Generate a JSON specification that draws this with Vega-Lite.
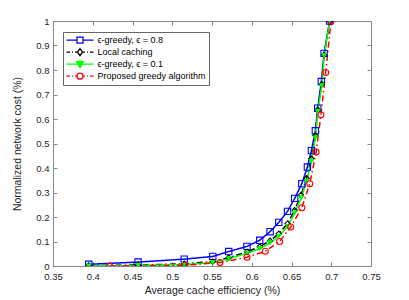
{
  "$schema": "https://vega.github.io/schema/vega-lite/v6.json",
  "width": 318,
  "height": 245,
  "autosize": {"type": "none"},
  "padding": {"left": 53, "top": 21, "right": 38, "bottom": 34},
  "background": "white",
  "config": {"font": "Liberation Sans", "view": {"stroke": null}},
  "data": {
    "values": [
      {"series": "ϵ-greedy, ϵ = 0.8", "x": 0.395, "y": 0.007},
      {"series": "ϵ-greedy, ϵ = 0.8", "x": 0.457, "y": 0.016},
      {"series": "ϵ-greedy, ϵ = 0.8", "x": 0.515, "y": 0.028},
      {"series": "ϵ-greedy, ϵ = 0.8", "x": 0.551, "y": 0.039},
      {"series": "ϵ-greedy, ϵ = 0.8", "x": 0.571, "y": 0.059},
      {"series": "ϵ-greedy, ϵ = 0.8", "x": 0.594, "y": 0.080},
      {"series": "ϵ-greedy, ϵ = 0.8", "x": 0.610, "y": 0.105},
      {"series": "ϵ-greedy, ϵ = 0.8", "x": 0.623, "y": 0.140},
      {"series": "ϵ-greedy, ϵ = 0.8", "x": 0.634, "y": 0.178},
      {"series": "ϵ-greedy, ϵ = 0.8", "x": 0.645, "y": 0.223},
      {"series": "ϵ-greedy, ϵ = 0.8", "x": 0.654, "y": 0.276},
      {"series": "ϵ-greedy, ϵ = 0.8", "x": 0.663, "y": 0.336},
      {"series": "ϵ-greedy, ϵ = 0.8", "x": 0.670, "y": 0.404},
      {"series": "ϵ-greedy, ϵ = 0.8", "x": 0.675, "y": 0.471},
      {"series": "ϵ-greedy, ϵ = 0.8", "x": 0.680, "y": 0.552},
      {"series": "ϵ-greedy, ϵ = 0.8", "x": 0.683, "y": 0.644},
      {"series": "ϵ-greedy, ϵ = 0.8", "x": 0.6875, "y": 0.753},
      {"series": "ϵ-greedy, ϵ = 0.8", "x": 0.691, "y": 0.868},
      {"series": "ϵ-greedy, ϵ = 0.8", "x": 0.698, "y": 1.0},
      {"series": "Local caching", "x": 0.395, "y": 0.002},
      {"series": "Local caching", "x": 0.457, "y": 0.004},
      {"series": "Local caching", "x": 0.515, "y": 0.009},
      {"series": "Local caching", "x": 0.551, "y": 0.018},
      {"series": "Local caching", "x": 0.571, "y": 0.034},
      {"series": "Local caching", "x": 0.594, "y": 0.058},
      {"series": "Local caching", "x": 0.610, "y": 0.079},
      {"series": "Local caching", "x": 0.623, "y": 0.103},
      {"series": "Local caching", "x": 0.634, "y": 0.132},
      {"series": "Local caching", "x": 0.645, "y": 0.173},
      {"series": "Local caching", "x": 0.654, "y": 0.228},
      {"series": "Local caching", "x": 0.662, "y": 0.290},
      {"series": "Local caching", "x": 0.669, "y": 0.358},
      {"series": "Local caching", "x": 0.675, "y": 0.438},
      {"series": "Local caching", "x": 0.680, "y": 0.533},
      {"series": "Local caching", "x": 0.683, "y": 0.638},
      {"series": "Local caching", "x": 0.688, "y": 0.742},
      {"series": "Local caching", "x": 0.691, "y": 0.862},
      {"series": "Local caching", "x": 0.698, "y": 1.0},
      {"series": "ϵ-greedy, ϵ = 0.1", "x": 0.395, "y": 0.0},
      {"series": "ϵ-greedy, ϵ = 0.1", "x": 0.457, "y": 0.002},
      {"series": "ϵ-greedy, ϵ = 0.1", "x": 0.515, "y": 0.006},
      {"series": "ϵ-greedy, ϵ = 0.1", "x": 0.551, "y": 0.014},
      {"series": "ϵ-greedy, ϵ = 0.1", "x": 0.571, "y": 0.029},
      {"series": "ϵ-greedy, ϵ = 0.1", "x": 0.594, "y": 0.052},
      {"series": "ϵ-greedy, ϵ = 0.1", "x": 0.610, "y": 0.071},
      {"series": "ϵ-greedy, ϵ = 0.1", "x": 0.623, "y": 0.094},
      {"series": "ϵ-greedy, ϵ = 0.1", "x": 0.634, "y": 0.121},
      {"series": "ϵ-greedy, ϵ = 0.1", "x": 0.645, "y": 0.161},
      {"series": "ϵ-greedy, ϵ = 0.1", "x": 0.654, "y": 0.216},
      {"series": "ϵ-greedy, ϵ = 0.1", "x": 0.662, "y": 0.277},
      {"series": "ϵ-greedy, ϵ = 0.1", "x": 0.669, "y": 0.345},
      {"series": "ϵ-greedy, ϵ = 0.1", "x": 0.675, "y": 0.426},
      {"series": "ϵ-greedy, ϵ = 0.1", "x": 0.680, "y": 0.522},
      {"series": "ϵ-greedy, ϵ = 0.1", "x": 0.683, "y": 0.630},
      {"series": "ϵ-greedy, ϵ = 0.1", "x": 0.688, "y": 0.735},
      {"series": "ϵ-greedy, ϵ = 0.1", "x": 0.691, "y": 0.858},
      {"series": "ϵ-greedy, ϵ = 0.1", "x": 0.698, "y": 1.0},
      {"series": "Proposed greedy algorithm", "x": 0.421, "y": 0.0},
      {"series": "Proposed greedy algorithm", "x": 0.516, "y": 0.003},
      {"series": "Proposed greedy algorithm", "x": 0.560, "y": 0.014},
      {"series": "Proposed greedy algorithm", "x": 0.594, "y": 0.036},
      {"series": "Proposed greedy algorithm", "x": 0.617, "y": 0.060},
      {"series": "Proposed greedy algorithm", "x": 0.635, "y": 0.100},
      {"series": "Proposed greedy algorithm", "x": 0.649, "y": 0.159},
      {"series": "Proposed greedy algorithm", "x": 0.663, "y": 0.238},
      {"series": "Proposed greedy algorithm", "x": 0.673, "y": 0.336},
      {"series": "Proposed greedy algorithm", "x": 0.681, "y": 0.465},
      {"series": "Proposed greedy algorithm", "x": 0.687, "y": 0.617},
      {"series": "Proposed greedy algorithm", "x": 0.693, "y": 0.790},
      {"series": "Proposed greedy algorithm", "x": 0.6997, "y": 1.0}
    ]
  },
  "layer": [
    {
      "mark": {"type": "line", "strokeWidth": 1.5, "clip": true},
      "encoding": {
        "x": {
          "field": "x", "type": "quantitative",
          "scale": {"domain": [0.35, 0.75], "nice": false, "zero": false},
          "axis": {
            "orient": "bottom",
            "title": "Average cache efficiency (%)",
            "values": [0.35, 0.4, 0.45, 0.5, 0.55, 0.6, 0.65, 0.7, 0.75],
            "format": ".2~f",
            "grid": false,
            "domainColor": "#888", "domainWidth": 1,
            "tickColor": "#888", "tickSize": -4, "tickWidth": 1,
            "labelFontSize": 9.5, "labelColor": "#262626", "labelPadding": 9,
            "labelFlush": false, "labelOverlap": false,
            "titleFontSize": 10.5, "titleFontWeight": "normal", "titleColor": "#262626", "titlePadding": 5
          }
        },
        "y": {
          "field": "y", "type": "quantitative",
          "scale": {"domain": [0, 1], "nice": false},
          "axis": {
            "orient": "left",
            "title": "Normalized network cost (%)",
            "values": [0, 0.1, 0.2, 0.3, 0.4, 0.5, 0.6, 0.7, 0.8, 0.9, 1],
            "format": ".1~f",
            "grid": false,
            "domainColor": "#888", "domainWidth": 1,
            "tickColor": "#888", "tickSize": -4, "tickWidth": 1,
            "labelFontSize": 9.5, "labelColor": "#262626", "labelPadding": 8,
            "labelFlush": false, "labelOverlap": false,
            "titleFontSize": 10.5, "titleFontWeight": "normal", "titleColor": "#262626", "titlePadding": 13
          }
        },
        "color": {
          "field": "series", "type": "nominal",
          "scale": {"domain": ["Local caching", "Proposed greedy algorithm", "ϵ-greedy, ϵ = 0.1", "ϵ-greedy, ϵ = 0.8"], "range": ["#000000", "#ff0000", "#00ff00", "#0000ff"]},
          "legend": null
        },
        "strokeDash": {
          "field": "series", "type": "nominal",
          "scale": {"domain": ["Local caching", "Proposed greedy algorithm", "ϵ-greedy, ϵ = 0.1", "ϵ-greedy, ϵ = 0.8"], "range": [[6, 3, 1.5, 3], [6, 3, 1.5, 3], [1, 0], [1, 0]]},
          "legend": null
        },
        "order": {"field": "x", "type": "quantitative"}
      }
    },
    {
      "transform": [{"filter": {"field": "series", "equal": "ϵ-greedy, ϵ = 0.8"}}],
      "mark": {"type": "point", "shape": "square", "filled": false, "size": 40, "strokeWidth": 1.1, "opacity": 1, "clip": true},
      "encoding": {
        "x": {"field": "x", "type": "quantitative", "axis": null},
        "y": {"field": "y", "type": "quantitative", "axis": null},
        "color": {"field": "series", "type": "nominal", "legend": null}
      }
    },
    {
      "transform": [{"filter": {"field": "series", "equal": "Local caching"}}],
      "mark": {"type": "point", "shape": "diamond", "filled": false, "size": 28, "strokeWidth": 1.1, "opacity": 1, "clip": true},
      "encoding": {
        "x": {"field": "x", "type": "quantitative", "axis": null},
        "y": {"field": "y", "type": "quantitative", "axis": null},
        "color": {"field": "series", "type": "nominal", "legend": null}
      }
    },
    {
      "transform": [{"filter": {"field": "series", "equal": "ϵ-greedy, ϵ = 0.1"}}],
      "mark": {"type": "point", "shape": "triangle-down", "filled": true, "size": 36, "strokeWidth": 1.1, "opacity": 1, "clip": true},
      "encoding": {
        "x": {"field": "x", "type": "quantitative", "axis": null},
        "y": {"field": "y", "type": "quantitative", "axis": null},
        "color": {"field": "series", "type": "nominal", "legend": null}
      }
    },
    {
      "transform": [{"filter": {"field": "series", "equal": "Proposed greedy algorithm"}}],
      "mark": {"type": "point", "shape": "circle", "filled": false, "size": 36, "strokeWidth": 1.1, "opacity": 1, "clip": true},
      "encoding": {
        "x": {"field": "x", "type": "quantitative", "axis": null},
        "y": {"field": "y", "type": "quantitative", "axis": null},
        "color": {"field": "series", "type": "nominal", "legend": null}
      }
    },
    {
      "mark": {"type": "point", "opacity": 0, "clip": true},
      "encoding": {
        "x": {
          "field": "x", "type": "quantitative",
          "axis": {
            "orient": "top", "title": null, "labels": false, "grid": false,
            "values": [0.35, 0.4, 0.45, 0.5, 0.55, 0.6, 0.65, 0.7, 0.75],
            "domainColor": "#888", "domainWidth": 1,
            "tickColor": "#888", "tickSize": -4, "tickWidth": 1
          }
        },
        "y": {
          "field": "y", "type": "quantitative",
          "axis": {
            "orient": "right", "title": null, "labels": false, "grid": false,
            "values": [0, 0.1, 0.2, 0.3, 0.4, 0.5, 0.6, 0.7, 0.8, 0.9, 1],
            "domainColor": "#888", "domainWidth": 1,
            "tickColor": "#888", "tickSize": -4, "tickWidth": 1
          }
        },
        "stroke": {
          "field": "series", "type": "nominal",
          "scale": {"domain": ["ϵ-greedy, ϵ = 0.8", "Local caching", "ϵ-greedy, ϵ = 0.1", "Proposed greedy algorithm"], "range": ["#0000ff", "#000000", "#00ff00", "#ff0000"]},
          "legend": {
            "title": null, "orient": "none", "legendX": 10, "legendY": 11,
            "symbolSize": 100, "symbolStrokeWidth": 1.3, "symbolOpacity": 1,
            "labelFontSize": 9, "labelFontWeight": "normal", "labelColor": "#000000", "labelOffset": 20,
            "strokeColor": "#666666", "fillColor": "white", "padding": 2.5, "rowPadding": 0, "clipHeight": 11.3
          }
        },
        "shape": {
          "field": "series", "type": "nominal",
          "scale": {
            "domain": ["ϵ-greedy, ϵ = 0.8", "Local caching", "ϵ-greedy, ϵ = 0.1", "Proposed greedy algorithm"],
            "range": [
              "M-1,0H1.1M2.3,0H4.4M1.1,-0.6H2.3V0.6H1.1Z",
              "M-1,0H-0.3M0.1,0H0.3M0.7,0H1.2M2.2,0H2.7M3.1,0H3.3M3.7,0H4.4M1.7,-0.7L2.2,0L1.7,0.7L1.2,0Z",
              "M-1,0H1.2M2.2,0H4.4M1.0,-0.55L2.4,-0.55L1.7,0.7Z",
              "M-1,0H-0.3M0.1,0H0.3M0.7,0H1.1M2.3,0H2.7M3.1,0H3.3M3.7,0H4.4M1.1,0A0.6,0.6,0,1,0,2.3,0A0.6,0.6,0,1,0,1.1,0Z"
            ]
          },
          "legend": {
            "title": null, "orient": "none", "legendX": 10, "legendY": 11,
            "symbolSize": 100, "symbolStrokeWidth": 1.3, "symbolOpacity": 1,
            "labelFontSize": 9, "labelFontWeight": "normal", "labelColor": "#000000", "labelOffset": 20,
            "strokeColor": "#666666", "fillColor": "white", "padding": 2.5, "rowPadding": 0, "clipHeight": 11.3
          }
        },
        "fill": {
          "field": "series", "type": "nominal",
          "scale": {"domain": ["ϵ-greedy, ϵ = 0.8", "Local caching", "ϵ-greedy, ϵ = 0.1", "Proposed greedy algorithm"], "range": ["#ffffff", "#ffffff", "#00ff00", "#ffffff"]},
          "legend": {
            "title": null, "orient": "none", "legendX": 10, "legendY": 11,
            "symbolSize": 100, "symbolStrokeWidth": 1.3, "symbolOpacity": 1,
            "labelFontSize": 9, "labelFontWeight": "normal", "labelColor": "#000000", "labelOffset": 20,
            "strokeColor": "#666666", "fillColor": "white", "padding": 2.5, "rowPadding": 0, "clipHeight": 11.3
          }
        }
      }
    }
  ]
}
